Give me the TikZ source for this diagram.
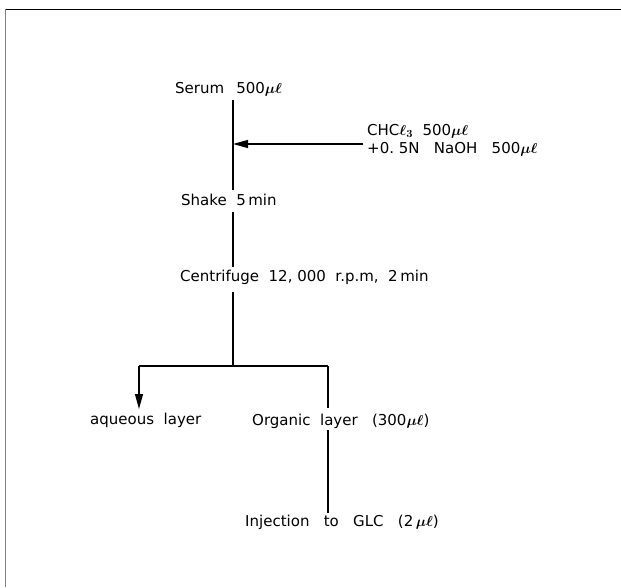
\documentclass[tikz,border=0pt]{standalone}
\usepackage{fontspec}
\setmainfont{DejaVu Sans}
\usetikzlibrary{arrows.meta}
\newcommand{\ul}{{\boldmath$\mu\ell$}}
\begin{document}
\begin{tikzpicture}[x=1pt,y=-1pt,
  lbl/.style={font=\fontsize{15}{18}\selectfont, inner sep=0pt, anchor=west},
  ln/.style={line width=1.2pt},
  arr/.style={line width=1.2pt,-{Triangle[length=15pt,width=8pt]}}]
\useasboundingbox (0,0) rectangle (621,587);
\fill[white] (0,0) rectangle (621,587);
% frame
\draw[line width=1.3pt] (5,9.5) -- (621,9.5);
\draw[line width=1.6pt,gray] (5.5,9) -- (5.5,587);
% nodes
\node[lbl] (serum) at (175,89) {Serum\ \ \,500\ul};
\node[lbl] (shake) at (181,200) {Shake\ \ 5\,min};
\node[lbl] (cent) at (180,277) {Centrifuge\ \ 12,\ 000\ \ r.p.m,\ \ 2\,min};
\node[lbl,align=left] (reag) at (367,140) {CHC{\boldmath$\ell_{\mathbf 3}$}\ \ 500\ul\\+0.\ 5N\ \ \ NaOH\ \ \ 500\ul};
\node[lbl] (aq) at (90,420) {aqueous\ \ layer};
\node[lbl] (org) at (252,421) {Organic\ \ layer\ \ \ (300\ul)};
\node[lbl] (inj) at (245,522) {Injection\ \ \ to\ \ \ GLC\ \ \ (2\,\ul)};
% coordinates
\coordinate (j1) at (233,144);
\coordinate (s1) at (233,366);
\coordinate (bl) at (139,366);
\coordinate (br) at (328,366);
% connectors
\draw[ln] (233,100) -- (233,190);
\draw[ln] (233,212) -- (233,267);
\draw[ln] (233,292) -- (s1);
\draw[ln] (bl) -- (br);
\draw[arr] (bl) -- (139,409);
\draw[ln] (br) -- (328,408);
\draw[ln] (328,430) -- (328,513);
\draw[arr] (363,144) -- (j1);
\end{tikzpicture}
\end{document}
